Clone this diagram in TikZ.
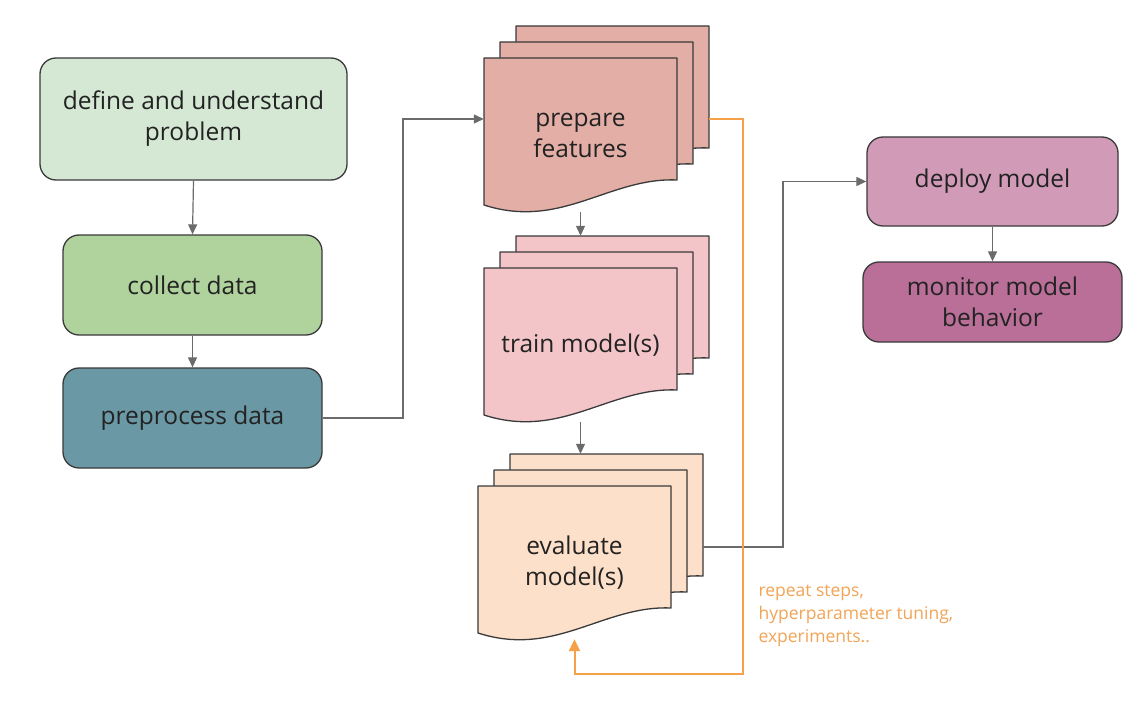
\documentclass[tikz,border=0pt]{standalone}
\usepackage{fontspec}
\setmainfont{Open Sans}
\usetikzlibrary{arrows.meta,calc}
\definecolor{linec}{HTML}{3A3A3A}
\definecolor{arrc}{HTML}{6B6B6B}
\definecolor{orangec}{HTML}{F7A04A}
\definecolor{orangetxt}{HTML}{F2A457}
\definecolor{txtc}{HTML}{222222}
\definecolor{cdefine}{HTML}{D5E8D4}
\definecolor{ccollect}{HTML}{B0D39E}
\definecolor{cpre}{HTML}{6A98A5}
\definecolor{cprep}{HTML}{E2AEA6}
\definecolor{ctrain}{HTML}{F3C5C8}
\definecolor{ceval}{HTML}{FDE0C9}
\definecolor{cdeploy}{HTML}{D19BB8}
\definecolor{cmonitor}{HTML}{B96F97}
\newcommand\docshape[5]{%
  \filldraw[fill=#5, draw=linec, line width=1.3pt, line join=round]
    (#1,#2) -- ({#1+#3},#2) -- ({#1+#3},{#2+#4-25})
    .. controls ({#1+0.65*#3},{#2+#4-28}) and ({#1+0.4*#3},{#2+#4+25}) .. (#1,{#2+#4}) -- cycle;}
\begin{document}
\begin{tikzpicture}[x=1pt,y=-1pt,
  lbl/.style={font=\fontsize{24.5}{31}\selectfont, text=txtc, align=center},
  box/.style={lbl, draw=linec, line width=1.3pt, rounded corners=16pt, inner sep=0pt},
  ghost/.style={lbl, draw=none, inner sep=0pt},
  arr/.style={draw=arrc, line width=1.2pt, -{Triangle[length=10pt,width=9pt]}},
  looparr/.style={draw=orangec, line width=2pt, -{Triangle[length=12pt,width=11pt]}}]
\useasboundingbox (0,0) rectangle (1148,722);
\fill[white] (0,0) rectangle (1148,722);

% left column
\node[box, fill=cdefine, minimum width=307pt, minimum height=122pt] (def) at (193.5,119) {define and understand\\problem};
\node[box, fill=ccollect, minimum width=259pt, minimum height=100pt] (col) at (192.5,285) {collect data};
\node[box, fill=cpre, minimum width=259pt, minimum height=100pt] (pre) at (192.5,418) {preprocess data};

% multi-document stacks
\docshape{516}{26}{193}{147}{cprep}
\docshape{500}{42}{193}{147}{cprep}
\docshape{484}{58}{193}{147}{cprep}
\node[ghost, minimum width=193pt, minimum height=122pt] (prepB) at (612.5,87) {};
\node[ghost, minimum width=193pt, minimum height=154pt] (prep) at (580.5,135) {prepare\\features};

\docshape{516}{236}{193}{147}{ctrain}
\docshape{500}{252}{193}{147}{ctrain}
\docshape{484}{268}{193}{147}{ctrain}
\node[ghost, minimum width=193pt, minimum height=122pt] (trainB) at (612.5,297) {};
\node[ghost, minimum width=193pt, minimum height=154pt] (train) at (580.5,345) {train model(s)};

\docshape{510}{454}{193}{147}{ceval}
\docshape{494}{470}{193}{147}{ceval}
\docshape{478}{486}{193}{147}{ceval}
\node[ghost, minimum width=193pt, minimum height=122pt] (evalB) at (606.5,515) {};
\node[ghost, minimum width=193pt, minimum height=153pt] (eval) at (574.5,562.5) {evaluate\\model(s)};

% right column
\node[box, fill=cdeploy, minimum width=251pt, minimum height=89pt] (dep) at (992.5,181.5) {deploy model};
\node[box, fill=cmonitor, minimum width=259pt, minimum height=80pt] (mon) at (992.5,302) {monitor model\\behavior};

% connectors
\draw[arr] (def.south) -- (col.north);
\draw[arr] (col.south) -- (pre.north);
\draw[arr] (pre.east) -- (403,418) |- ([yshift=16pt]prep.west);
\draw[arr] (prep.south) -- (prep.south |- trainB.north);
\draw[arr] (train.south) -- (train.south |- evalB.north);
\draw[arr] ([yshift=-32pt]evalB.east) -| (783,300) |- (dep.west);
\draw[arr] (dep.south) -- (mon.north);

% feedback loop
\coordinate (loopstart) at ([yshift=-32pt]prepB.east);
\draw[looparr] (loopstart) -- (743,119) -- (743,674) -| (eval.south);
\node[anchor=west, align=left, text=orangetxt, font=\fontsize{17.5}{23}\selectfont] (note) at (755,616) {repeat steps,\\hyperparameter tuning,\\experiments..};
\end{tikzpicture}
\end{document}
